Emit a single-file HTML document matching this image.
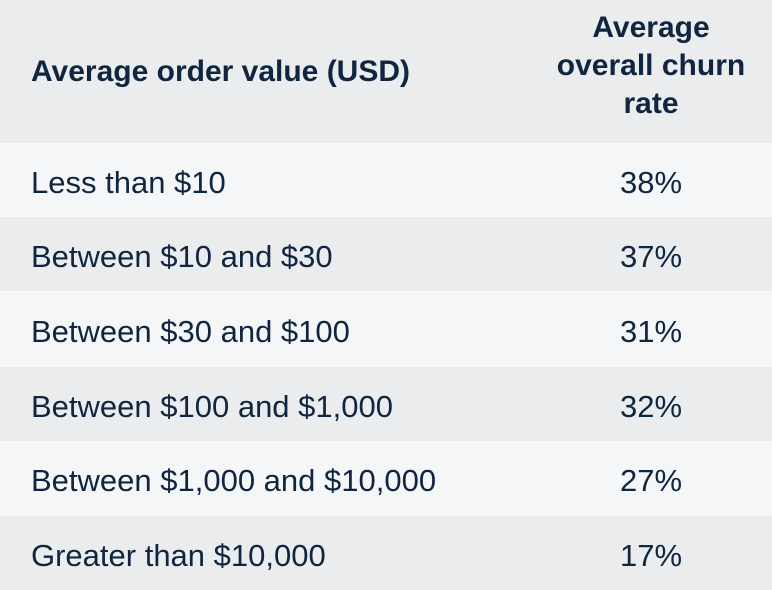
<!DOCTYPE html>
<html><head><meta charset="utf-8"><style>
html,body{margin:0;padding:0;width:772px;height:586px;overflow:hidden;background:#f5f6f7;font-family:"Liberation Sans",sans-serif;color:#0f2540}
.row{position:absolute;left:0;width:772px;display:flex;align-items:center}
.c1{position:absolute;left:31px;font-size:31px;white-space:nowrap;padding-top:5px}
.c2{position:absolute;left:530px;width:242px;text-align:center;font-size:31px;padding-top:5px}
.hdr{top:0;height:143px;background:#ebecee;font-weight:bold}
.hdr .c2{line-height:38px;font-size:30px;padding-top:0;top:9px}
.hdr .c1{font-size:30px;padding-top:0}
.g{background:#ebecee}.w{background:#f5f6f7}
</style></head><body>
<div class="row hdr" style="top:0">
<div class="c1">Average order value (USD)</div>
<div class="c2">Average<br>overall churn<br>rate</div>
</div>
<div class="row w" style="top:143px;height:74px"><div class="c1">Less than $10</div><div class="c2">38%</div></div>
<div class="row g" style="top:217px;height:74px"><div class="c1">Between $10 and $30</div><div class="c2">37%</div></div>
<div class="row w" style="top:291px;height:76px"><div class="c1">Between $30 and $100</div><div class="c2">31%</div></div>
<div class="row g" style="top:367px;height:74px"><div class="c1">Between $100 and $1,000</div><div class="c2">32%</div></div>
<div class="row w" style="top:441px;height:75px"><div class="c1">Between $1,000 and $10,000</div><div class="c2">27%</div></div>
<div class="row g" style="top:516px;height:74px"><div class="c1">Greater than $10,000</div><div class="c2">17%</div></div>
</body></html>
